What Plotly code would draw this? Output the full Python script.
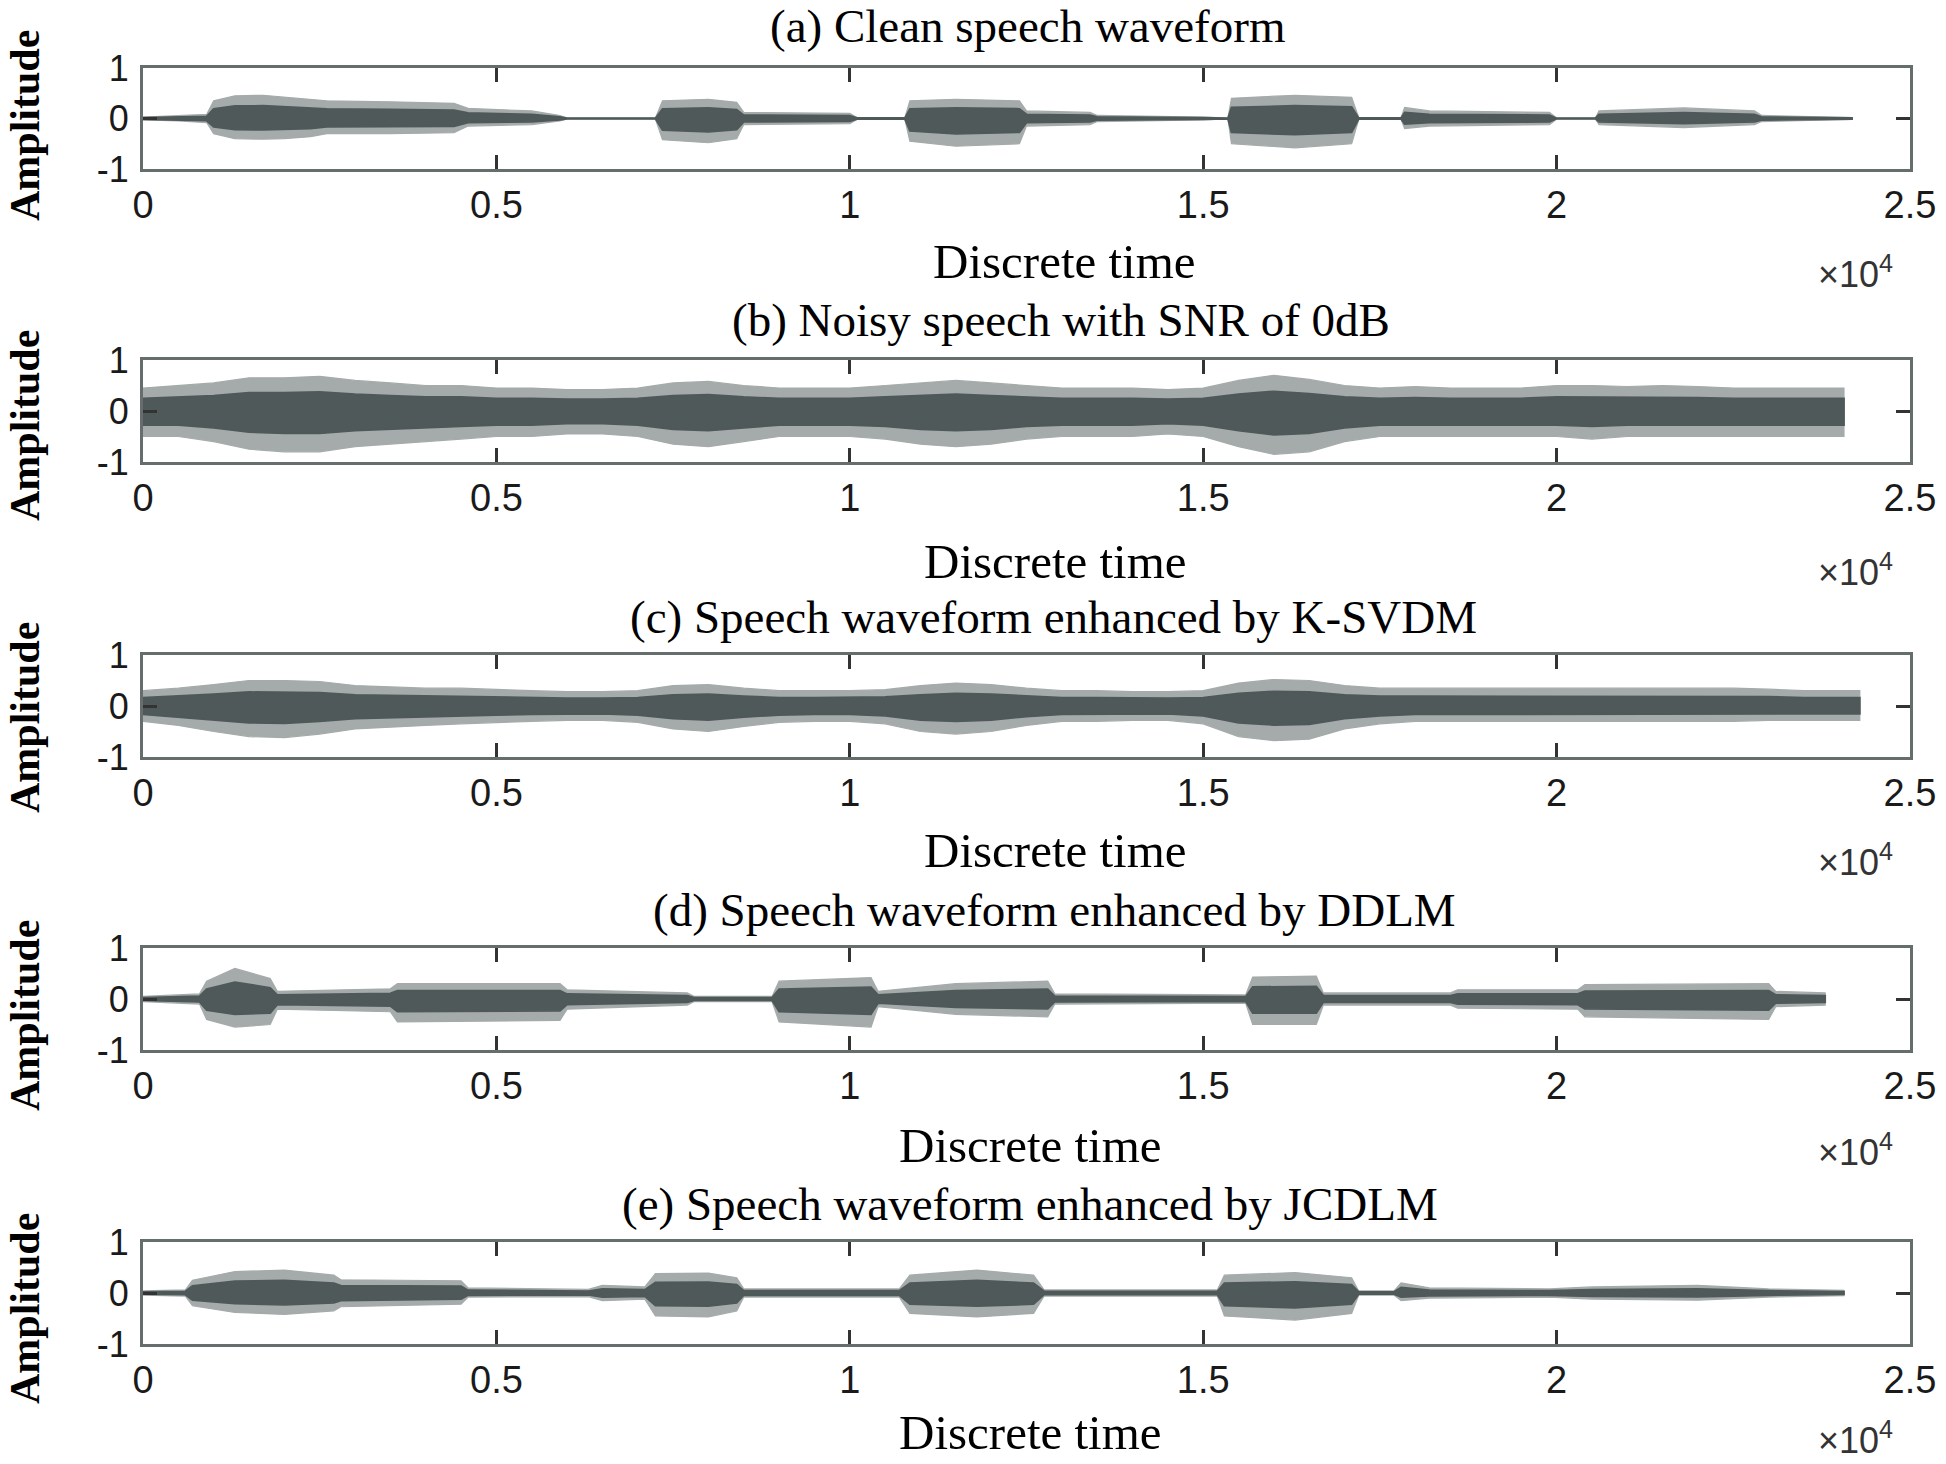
import numpy as np
import plotly.graph_objects as go

# ---------------- data: waveform envelopes ----------------
# time (samples), upper peak, lower peak magnitude
clean_t = [0, 500, 900, 1000, 1300, 1700, 2000, 2370, 2600, 3500, 4400, 4600, 5500, 5900, 6000,
           7250, 7350, 8000, 8400, 8500, 10000, 10100, 10780, 10850, 11500, 12400, 12500, 13400,
           13500, 15000, 15350, 15400, 16300, 17100, 17200, 17800, 17850, 18200, 19900, 20000,
           20550, 20600, 21800, 22800, 22900, 24180]
clean_upper = [0.03, 0.05, 0.08, 0.35, 0.45, 0.46, 0.42, 0.38, 0.35, 0.33, 0.30, 0.20, 0.15, 0.06, 0.01,
               0.01, 0.35, 0.38, 0.32, 0.12, 0.10, 0.02, 0.02, 0.35, 0.38, 0.35, 0.15, 0.12,
               0.06, 0.03, 0.01, 0.40, 0.46, 0.42, 0.02, 0.02, 0.22, 0.15, 0.12, 0.01,
               0.01, 0.15, 0.21, 0.15, 0.06, 0.02]
clean_lower = [0.03, 0.05, 0.08, 0.30, 0.40, 0.41, 0.40, 0.36, 0.30, 0.30, 0.28, 0.15, 0.12, 0.05, 0.01,
               0.01, 0.42, 0.48, 0.40, 0.12, 0.10, 0.02, 0.02, 0.45, 0.55, 0.50, 0.15, 0.12,
               0.06, 0.03, 0.01, 0.50, 0.58, 0.50, 0.02, 0.02, 0.20, 0.15, 0.12, 0.01,
               0.01, 0.12, 0.18, 0.12, 0.06, 0.02]

noisy_t = list(range(0, 24000, 500)) + [24066]
noisy_upper = [0.45, 0.50, 0.55, 0.65, 0.65, 0.68, 0.60, 0.55, 0.50, 0.50, 0.45, 0.45, 0.42, 0.42, 0.45,
               0.55, 0.58, 0.50, 0.45, 0.45, 0.45, 0.50, 0.55, 0.60, 0.55, 0.50, 0.45, 0.45, 0.45, 0.42,
               0.45, 0.60, 0.70, 0.62, 0.50, 0.45, 0.48, 0.45, 0.45, 0.45, 0.50, 0.50, 0.48, 0.50, 0.48,
               0.45, 0.45, 0.45, 0.45]
noisy_lower = [0.50, 0.50, 0.60, 0.75, 0.80, 0.80, 0.70, 0.65, 0.60, 0.55, 0.50, 0.50, 0.45, 0.45, 0.50,
               0.65, 0.70, 0.60, 0.50, 0.50, 0.50, 0.55, 0.65, 0.70, 0.65, 0.55, 0.50, 0.50, 0.50, 0.45,
               0.50, 0.70, 0.85, 0.80, 0.60, 0.50, 0.50, 0.50, 0.50, 0.50, 0.50, 0.55, 0.50, 0.50, 0.50,
               0.50, 0.50, 0.50, 0.50]

ksvdm_t = list(range(0, 24000, 500)) + [24290]
ksvdm_upper = [0.30, 0.35, 0.42, 0.50, 0.50, 0.48, 0.40, 0.38, 0.35, 0.35, 0.32, 0.30, 0.28, 0.28, 0.30,
               0.40, 0.42, 0.35, 0.30, 0.30, 0.30, 0.32, 0.40, 0.45, 0.42, 0.35, 0.30, 0.30, 0.28, 0.28,
               0.30, 0.45, 0.52, 0.50, 0.40, 0.35, 0.35, 0.35, 0.35, 0.35, 0.35, 0.35, 0.35, 0.35, 0.35,
               0.35, 0.33, 0.30, 0.30]
ksvdm_lower = [0.30, 0.38, 0.50, 0.60, 0.62, 0.55, 0.45, 0.42, 0.38, 0.35, 0.32, 0.30, 0.28, 0.28, 0.32,
               0.45, 0.50, 0.40, 0.32, 0.30, 0.30, 0.35, 0.50, 0.55, 0.50, 0.38, 0.30, 0.30, 0.28, 0.28,
               0.35, 0.60, 0.68, 0.65, 0.45, 0.35, 0.30, 0.30, 0.30, 0.30, 0.30, 0.30, 0.30, 0.30, 0.30,
               0.30, 0.28, 0.28, 0.28]

ddlm_t = [0, 800, 900, 1300, 1800, 1900, 3500, 3600, 5900, 6000, 7700, 7800, 8900, 9000, 10300,
          10400, 11500, 12800, 12900, 15600, 15700, 16600, 16700, 18500, 18600, 20300, 20400,
          23000, 23100, 23800]
ddlm_upper = [0.05, 0.10, 0.35, 0.60, 0.40, 0.15, 0.20, 0.30, 0.30, 0.18, 0.12, 0.05, 0.05, 0.35, 0.42,
              0.15, 0.30, 0.35, 0.10, 0.08, 0.43, 0.45, 0.12, 0.12, 0.18, 0.18, 0.28,
              0.30, 0.15, 0.12]
ddlm_lower = [0.05, 0.10, 0.40, 0.55, 0.50, 0.20, 0.25, 0.45, 0.42, 0.20, 0.12, 0.05, 0.05, 0.45, 0.55,
              0.15, 0.30, 0.35, 0.10, 0.08, 0.50, 0.50, 0.12, 0.12, 0.18, 0.20, 0.35,
              0.40, 0.15, 0.12]

jcdlm_t = [0, 600, 700, 1300, 2000, 2700, 2800, 4500, 4600, 6300, 6500, 7100, 7250, 8000, 8400,
           8500, 10700, 10850, 11800, 12600, 12750, 15200, 15300, 16300, 17100, 17200, 17700,
           17800, 18200, 19900, 20500, 22000, 23000, 24066]
jcdlm_upper = [0.04, 0.06, 0.25, 0.42, 0.45, 0.35, 0.26, 0.24, 0.10, 0.07, 0.15, 0.12, 0.38, 0.39, 0.30,
               0.08, 0.08, 0.35, 0.45, 0.35, 0.06, 0.06, 0.35, 0.40, 0.30, 0.04, 0.04,
               0.20, 0.10, 0.08, 0.12, 0.15, 0.08, 0.05]
jcdlm_lower = [0.04, 0.06, 0.25, 0.38, 0.42, 0.35, 0.27, 0.22, 0.08, 0.07, 0.15, 0.12, 0.45, 0.47, 0.35,
               0.08, 0.08, 0.40, 0.47, 0.40, 0.06, 0.06, 0.45, 0.53, 0.40, 0.04, 0.04,
               0.15, 0.10, 0.08, 0.12, 0.14, 0.08, 0.05]

times = [clean_t, noisy_t, ksvdm_t, ddlm_t, jcdlm_t]
uppers = [clean_upper, noisy_upper, ksvdm_upper, ddlm_upper, jcdlm_upper]
lowers = [clean_lower, noisy_lower, ksvdm_lower, ddlm_lower, jcdlm_lower]

titles = [
    "(a) Clean speech waveform",
    "(b) Noisy speech with SNR of 0dB",
    "(c) Speech waveform enhanced by K-SVDM",
    "(d) Speech waveform enhanced by DDLM",
    "(e) Speech waveform enhanced by JCDLM",
]
x_tick_vals = [0, 5000, 10000, 15000, 20000, 25000]
x_tick_text = ["0", "0.5", "1", "1.5", "2", "2.5"]
y_tick_vals = [-1, 0, 1]
y_tick_text = ["-1", "0", "1"]

# ---------------- layout geometry (pixels of the 1946x1464 page) ----------------
W, H = 1946, 1464
X0, X1 = 143, 1910
panel_px = [(68, 169), (360, 462), (655, 757), (948, 1050), (1242, 1344)]
title_pos = [(1027, 26), (1061, 320), (1053, 617), (1054, 910), (1030, 1204)]
xlabel_pos = [(1064, 261), (1055, 561), (1055, 851), (1030, 1145), (1030, 1432)]
exp_pos = [(1895, 272), (1895, 570), (1895, 860), (1895, 1150), (1895, 1438)]
ylabel_pos = [(25, 126), (25, 426), (25, 718), (25, 1016), (25, 1309)]

OUTER = "#a5abab"
INNER = "#4f5959"
FRAME = "#666d6d"
CORE_FRAC = 0.55

fig = go.Figure()
layout = dict(
    template="none",
    width=W, height=H, paper_bgcolor="white", plot_bgcolor="white",
    margin=dict(l=0, r=0, t=0, b=0, pad=0, autoexpand=False), showlegend=False,
)
annotations = []

for i in range(5):
    xs = np.array(times[i], dtype=float)
    up = np.array(uppers[i])
    lo = np.array(lowers[i])
    xa = "x" if i == 0 else f"x{i+1}"
    ya = "y" if i == 0 else f"y{i+1}"
    poly_x = np.concatenate([xs, xs[::-1]])
    fig.add_trace(go.Scatter(
        x=poly_x, y=np.concatenate([up, -lo[::-1]]), fill="toself", mode="lines",
        line=dict(color=OUTER, width=1.2), fillcolor=OUTER, xaxis=xa, yaxis=ya,
        hoverinfo="skip"))
    fig.add_trace(go.Scatter(
        x=poly_x, y=np.concatenate([up * CORE_FRAC, -lo[::-1] * CORE_FRAC]), fill="toself",
        mode="lines", line=dict(color=INNER, width=1.8), fillcolor=INNER, xaxis=xa, yaxis=ya,
        hoverinfo="skip"))

    top, bot = panel_px[i]
    xkey = "xaxis" if i == 0 else f"xaxis{i+1}"
    ykey = "yaxis" if i == 0 else f"yaxis{i+1}"
    layout[xkey] = dict(
        domain=[X0 / W, X1 / W], anchor=ya, range=[0, 25000], automargin=False,
        tickmode="array", tickvals=x_tick_vals, ticktext=x_tick_text,
        ticks="inside", ticklen=14, tickwidth=2.5, tickcolor="#333",
        showline=True, linecolor=FRAME, linewidth=3, mirror="ticks",
        showgrid=False, zeroline=False,
        tickfont=dict(family="Liberation Sans, Arial", size=38, color="#1a1a1a"),
        ticklabelstandoff=0,
    )
    layout[ykey] = dict(
        domain=[1 - bot / H, 1 - top / H], anchor=xa, range=[-1, 1], automargin=False,
        tickmode="array", tickvals=y_tick_vals, ticktext=y_tick_text,
        ticks="inside", ticklen=14, tickwidth=2.5, tickcolor="#333",
        showline=True, linecolor=FRAME, linewidth=3, mirror="ticks",
        showgrid=False, zeroline=False,
        tickfont=dict(family="Liberation Sans, Arial", size=36, color="#1a1a1a"),
        ticklabelstandoff=4,
    )

    tx, ty = title_pos[i]
    annotations.append(dict(text=titles[i], x=tx / W, y=1 - ty / H, xref="paper", yref="paper",
                            showarrow=False, xanchor="center", yanchor="middle",
                            font=dict(family="Liberation Serif", size=47, color="black")))
    lx, ly = xlabel_pos[i]
    annotations.append(dict(text="Discrete time", x=lx / W, y=1 - ly / H, xref="paper", yref="paper",
                            showarrow=False, xanchor="center", yanchor="middle",
                            font=dict(family="Liberation Serif", size=49, color="black")))
    ex, ey = exp_pos[i]
    annotations.append(dict(text="×10<sup>4</sup>", x=ex / W, y=1 - ey / H, xref="paper", yref="paper",
                            showarrow=False, xanchor="right", yanchor="middle",
                            font=dict(family="Liberation Sans, Arial", size=36, color="#333")))
    ax_, ay_ = ylabel_pos[i]
    annotations.append(dict(text="<b>Amplitude</b>", x=ax_ / W, y=1 - ay_ / H, xref="paper", yref="paper",
                            showarrow=False, xanchor="center", yanchor="middle", textangle=-90,
                            font=dict(family="Liberation Serif", size=42, color="black")))

layout["annotations"] = annotations
fig.update_layout(**layout)
fig.write_html("out.html", config={"displayModeBar": False},
               post_script="document.body.style.margin='0';document.body.style.overflow='hidden';")
